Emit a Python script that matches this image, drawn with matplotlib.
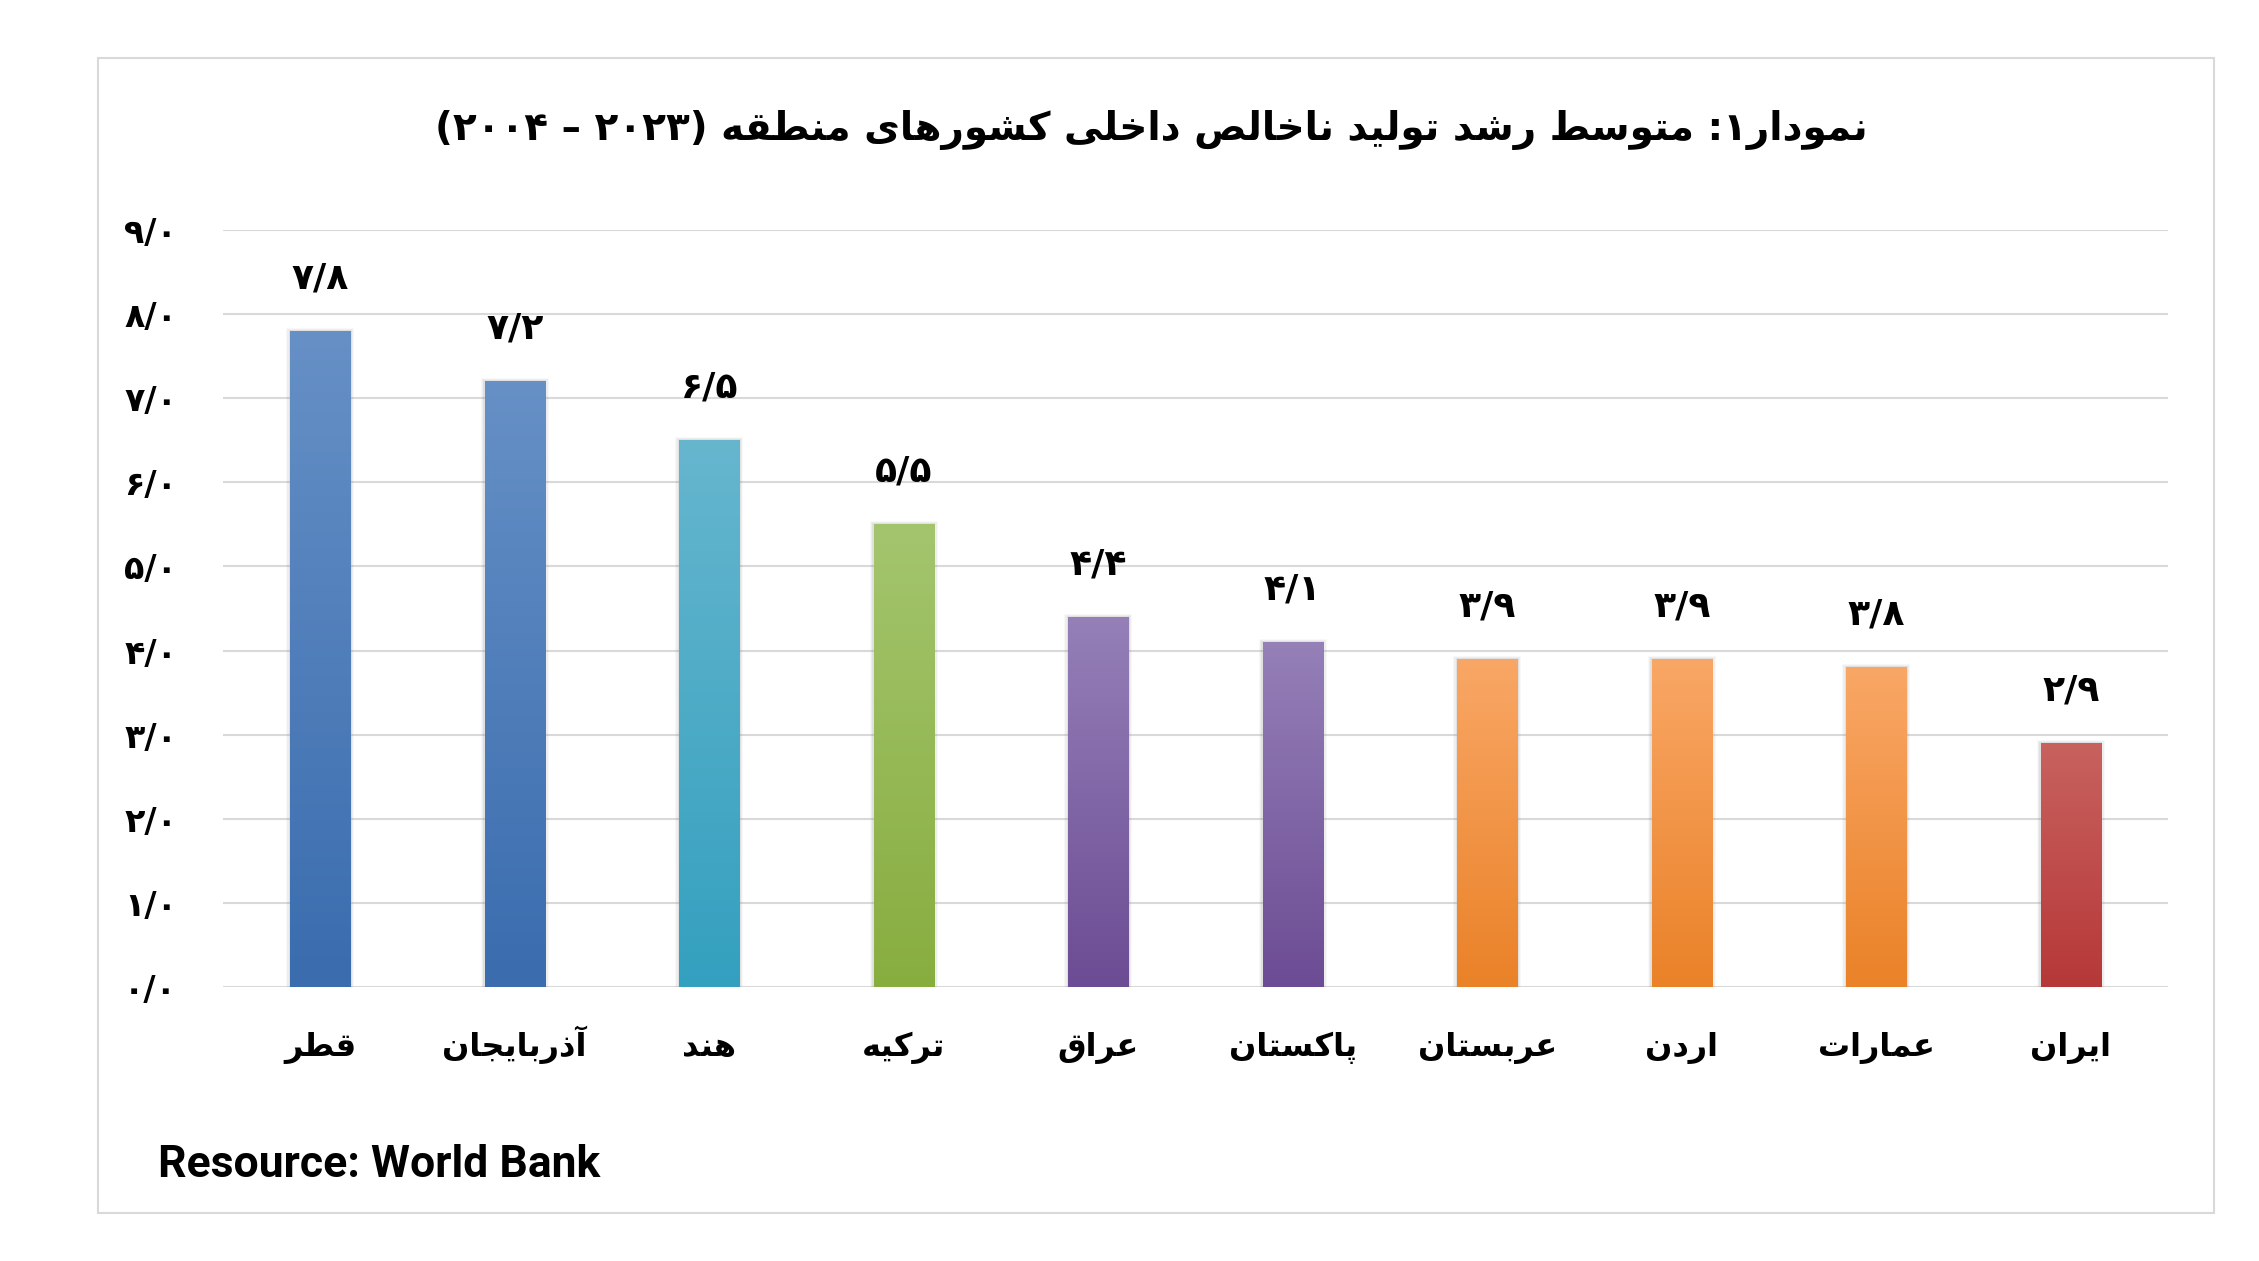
import numpy as np
import matplotlib
matplotlib.use("Agg")
import matplotlib.pyplot as plt
from matplotlib.colors import LinearSegmentedColormap
from matplotlib.patches import Rectangle

# data
countries = ["قطر", "آذربایجان", "هند", "ترکیه", "عراق",
             "پاکستان", "عربستان", "اردن", "عمارات", "ایران"]
growth = [7.8, 7.2, 6.5, 5.5, 4.4, 4.1, 3.9, 3.9, 3.8, 2.9]
bar_top = ["#6690c6", "#6690c6", "#66b6ce", "#a4c56e", "#9580b8",
           "#9580b8", "#f9a766", "#f9a766", "#f9a766", "#c8625f"]
bar_bottom = ["#3a6cae", "#3a6cae", "#34a0bf", "#88ad3f", "#6c4c94",
              "#6c4c94", "#ea8228", "#ea8228", "#ea8228", "#b63838"]
yticks = list(range(0, 10))
title = "نمودار۱: متوسط رشد تولید ناخالص داخلی کشورهای منطقه (۲۰۲۳ – ۲۰۰۴)"
source = "Resource: World Bank"

# tiny arabic/persian shaper (matplotlib has no complex text layout)
# iso, final, initial, medial
FORMS = {
    "ا": (0xFE8D, 0xFE8E, None, None),
    "آ": (0xFE81, 0xFE82, None, None),
    "ب": (0xFE8F, 0xFE90, 0xFE91, 0xFE92),
    "ت": (0xFE95, 0xFE96, 0xFE97, 0xFE98),
    "ج": (0xFE9D, 0xFE9E, 0xFE9F, 0xFEA0),
    "خ": (0xFEA5, 0xFEA6, 0xFEA7, 0xFEA8),
    "د": (0xFEA9, 0xFEAA, None, None),
    "ذ": (0xFEAB, 0xFEAC, None, None),
    "ر": (0xFEAD, 0xFEAE, None, None),
    "س": (0xFEB1, 0xFEB2, 0xFEB3, 0xFEB4),
    "ش": (0xFEB5, 0xFEB6, 0xFEB7, 0xFEB8),
    "ص": (0xFEB9, 0xFEBA, 0xFEBB, 0xFEBC),
    "ط": (0xFEC1, 0xFEC2, 0xFEC3, 0xFEC4),
    "ع": (0xFEC9, 0xFECA, 0xFECB, 0xFECC),
    "ق": (0xFED5, 0xFED6, 0xFED7, 0xFED8),
    "ل": (0xFEDD, 0xFEDE, 0xFEDF, 0xFEE0),
    "م": (0xFEE1, 0xFEE2, 0xFEE3, 0xFEE4),
    "ن": (0xFEE5, 0xFEE6, 0xFEE7, 0xFEE8),
    "ه": (0xFEE9, 0xFEEA, 0xFEEB, 0xFEEC),
    "و": (0xFEED, 0xFEEE, None, None),
    "پ": (0xFB56, 0xFB57, 0xFB58, 0xFB59),
    "ک": (0xFB8E, 0xFB8F, 0xFB90, 0xFB91),
    "ی": (0xFBFC, 0xFBFD, 0xFBFE, 0xFBFF),
}
FA_DIGITS = str.maketrans("0123456789", "۰۱۲۳۴۵۶۷۸۹")


def shape(s):
    out = []
    for i, c in enumerate(s):
        if c not in FORMS:
            out.append(c)
            continue
        iso, fin, ini, med = FORMS[c]
        prev = s[i - 1] if i > 0 else ""
        nxt = s[i + 1] if i + 1 < len(s) else ""
        jp = prev in FORMS and FORMS[prev][2] is not None
        jn = nxt in FORMS and ini is not None
        if jp and jn:
            cp = med
        elif jp:
            cp = fin
        elif jn:
            cp = ini
        else:
            cp = iso
        out.append(chr(cp))
    return "".join(out)


def rtl(s):
    vis = shape(s)[::-1]
    # put digit runs back in LTR order, mirror brackets
    res, run = [], []
    for c in vis:
        if c.isdigit():
            run.append(c)
        else:
            res.extend(run[::-1])
            run = []
            res.append({"(": ")", ")": "("}.get(c, c))
    res.extend(run[::-1])
    return "".join(res)


def fa_num(v):
    return f"{v:.1f}".replace(".", "/").translate(FA_DIGITS)


plt.rcParams["font.family"] = ["DejaVu Sans"]

fig = plt.figure(figsize=(22.59, 12.61), dpi=100)
ax = fig.add_axes([223 / 2259, 1 - 987 / 1261, (2168 - 223) / 2259, (987 - 230) / 1261])

# outer frame
fig.patches.append(Rectangle((98 / 2259, 1 - 1213 / 1261), (2214 - 98) / 2259,
                             (1213 - 58) / 1261, transform=fig.transFigure,
                             fill=False, edgecolor="#d9d9d9", linewidth=1.5))

x = np.arange(len(countries))
bars = ax.bar(x, growth, width=0.31, color="none", zorder=3)

grad = np.linspace(1, 0, 256).reshape(-1, 1)
for i, b in enumerate(bars):
    x0, w, h = b.get_x(), b.get_width(), b.get_height()
    # soft shadow
    for k, a in zip([0.06, 0.04, 0.02], [0.05, 0.08, 0.12]):
        ax.add_patch(Rectangle((x0 - k * 0.35, 0), w + k * 0.7, h + k * 0.6,
                               facecolor="#808080", alpha=a, linewidth=0, zorder=2))
    cmap = LinearSegmentedColormap.from_list("g", [bar_bottom[i], bar_top[i]])
    im = ax.imshow(grad, cmap=cmap, extent=(x0, x0 + w, 0, h), aspect="auto",
                   interpolation="bicubic", zorder=3)
    im.set_clip_path(b)
    ax.annotate(fa_num(growth[i]), (b.get_x() + w / 2, h), xytext=(0, 38),
                textcoords="offset points", ha="center", va="center",
                fontsize=26, fontweight="bold", color="#000000")

ax.set_xlim(-0.5, len(countries) - 0.5)
ax.set_ylim(0, 9)
ax.set_yticks(yticks)
ax.set_yticklabels([fa_num(t) for t in yticks], fontsize=24, fontweight="bold")
ax.set_xticks(x)
ax.set_xticklabels([rtl(c) for c in countries], fontsize=23, fontweight="bold",
                   va="baseline")
ax.tick_params(axis="y", length=0, pad=33)
ax.tick_params(axis="x", length=0, pad=50)
ax.grid(axis="y", color="#d9d9d9", linewidth=1.5, zorder=0)
ax.set_axisbelow(True)
for sp in ax.spines.values():
    sp.set_visible(False)

fig.text(1151 / 2259, 1 - 130 / 1261, rtl(title), ha="center", va="center",
         fontsize=28, fontweight="bold")
fig.text(158 / 2259, 1 - 1165 / 1261, source, ha="left", va="center",
         fontsize=32, fontweight="bold", family=["Roboto", "DejaVu Sans"])

fig.savefig("out.png", dpi=100)
